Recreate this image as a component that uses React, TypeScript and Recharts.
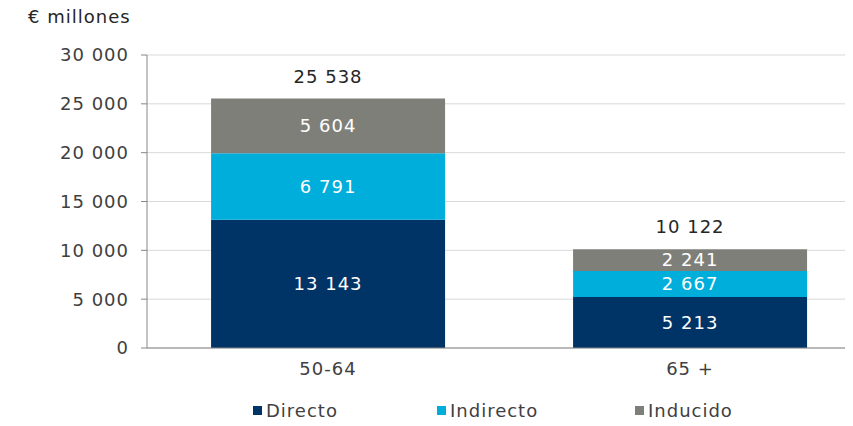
import React from 'react';
import { BarChart, Bar, XAxis, YAxis, CartesianGrid, LabelList, Legend } from 'recharts';

const categories = ['50-64', '65 +'];
const directo = [13143, 5213];
const indirecto = [6791, 2667];
const inducido = [5604, 2241];
const totals = [25538, 10122];
const yTicks = [0, 5000, 10000, 15000, 20000, 25000, 30000];

const data = categories.map((c, i) => ({
  cat: c,
  directo: directo[i],
  indirecto: indirecto[i],
  inducido: inducido[i],
  total: totals[i],
}));

const FONT = '"DejaVu Sans", sans-serif';
const LS = 1;
const fmt = (v: number) => String(v).replace(/\B(?=(\d{3})+(?!\d))/g, ' ');

const COLORS = { directo: '#003466', indirecto: '#00AEDB', inducido: '#7F7F7A' };

const legendItems = [
  { label: 'Directo', color: COLORS.directo, x: 253 },
  { label: 'Indirecto', color: COLORS.indirecto, x: 437 },
  { label: 'Inducido', color: COLORS.inducido, x: 635 },
];

const LegendContent = () => (
  <div style={{ position: 'relative', height: 38, width: 880 }}>
    {legendItems.map((it) => (
      <div key={it.label} style={{ position: 'absolute', left: it.x, top: 12, display: 'flex', alignItems: 'center', fontFamily: FONT, fontSize: 18, letterSpacing: LS, color: '#404040' }}>
        <span style={{ display: 'inline-block', width: 9, height: 9, background: it.color, marginRight: 4 }} />
        <span>{it.label}</span>
      </div>
    ))}
  </div>
);

const TotalLabel = (props: any) => {
  const { x, y, width, value } = props;
  return (
    <text x={x + width / 2} y={y - 16} textAnchor="middle" fontFamily={FONT} fontSize={18} letterSpacing={LS} fill="#262626">
      {fmt(value)}
    </text>
  );
};

const tickStyle = { fontFamily: FONT, fontSize: 18, fill: '#404040', letterSpacing: LS };

export default function App() {
  return (
    <div style={{ position: 'relative', marginLeft: -8, marginTop: -8, width: 880, height: 426 }}>
      <div style={{ position: 'absolute', left: 28, top: 6, fontFamily: FONT, fontSize: 18, letterSpacing: LS, color: '#262626' }}>€ millones</div>
      <BarChart width={880} height={426} data={data} margin={{ top: 55, right: 9, bottom: 0, left: 0 }} barCategoryGap="17.7%">
        <CartesianGrid vertical={false} stroke="#D9D9D9" />
        <XAxis dataKey="cat" height={40} tickLine={false} axisLine={{ stroke: '#868686' }} tick={tickStyle} tickMargin={8} />
        <YAxis width={147} domain={[0, 30000]} ticks={yTicks} tickFormatter={fmt} axisLine={{ stroke: '#868686' }} tickLine={{ stroke: '#868686' }} tickSize={6} tickMargin={12} tick={tickStyle} interval={0} />
        <Legend verticalAlign="bottom" height={38} content={() => <LegendContent />} wrapperStyle={{ left: 0, width: 880 }} />
        <Bar dataKey="directo" stackId="a" fill={COLORS.directo} isAnimationActive={false}>
          <LabelList dataKey="directo" position="center" formatter={(v: any) => fmt(v)} fill="#FFFFFF" fontFamily={FONT} fontSize={18} letterSpacing={LS} />
        </Bar>
        <Bar dataKey="indirecto" stackId="a" fill={COLORS.indirecto} isAnimationActive={false}>
          <LabelList dataKey="indirecto" position="center" formatter={(v: any) => fmt(v)} fill="#FFFFFF" fontFamily={FONT} fontSize={18} letterSpacing={LS} />
        </Bar>
        <Bar dataKey="inducido" stackId="a" fill={COLORS.inducido} isAnimationActive={false}>
          <LabelList dataKey="inducido" position="center" formatter={(v: any) => fmt(v)} fill="#FFFFFF" fontFamily={FONT} fontSize={18} letterSpacing={LS} />
          <LabelList dataKey="total" content={<TotalLabel />} />
        </Bar>
      </BarChart>
    </div>
  );
}
